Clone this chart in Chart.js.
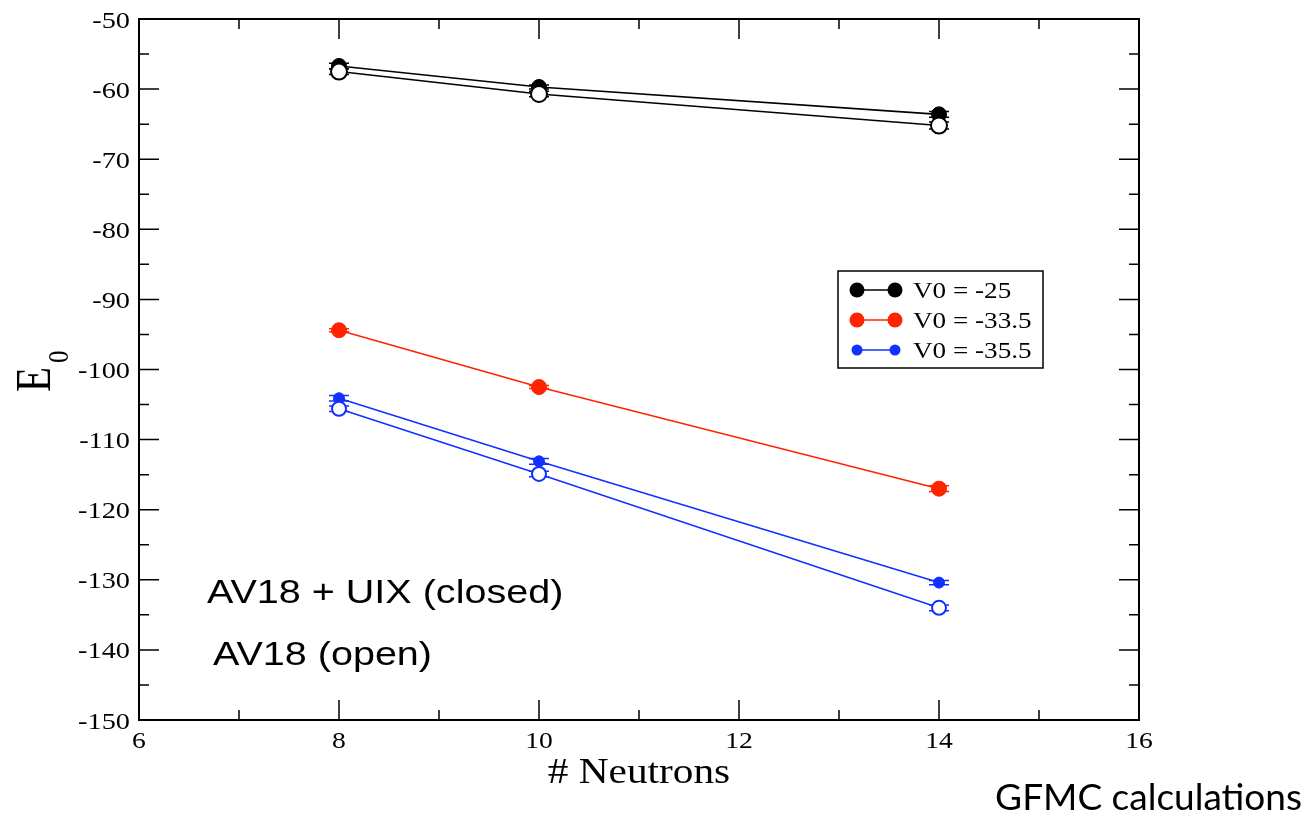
<!DOCTYPE html>
<html>
<head>
<meta charset="utf-8">
<script src="https://cdn.jsdelivr.net/npm/chart.js@4"></script>
<style>
  html, body { margin: 0; padding: 0; background: #fff; }
  #wrap { width: 1309px; height: 819px; position: relative; }
</style>
</head>
<body>
<div id="wrap"><canvas id="gfmcChart"></canvas></div>
<script>
// --- data ---
const neutrons = [8, 10, 14];
const blackClosed = [-56.7, -59.7, -63.6];
const blackOpen   = [-57.5, -60.7, -65.2];
const redClosed   = [-94.4, -102.5, -117.0];
const blueClosed  = [-104.1, -113.1, -130.4];
const blueOpen    = [-105.6, -114.9, -134.0];

const blackClosedErr = [0.4, 0.3, 0.4];
const blackOpenErr   = [0.4, 0.4, 0.5];
const redClosedErr   = [0.2, 0.2, 0.4];
const blueClosedErr  = [0.4, 0.4, 0.3];
const blueOpenErr    = [0.4, 0.4, 0.4];

const legendLabels = ['V0 = -25', 'V0 = -33.5', 'V0 = -35.5'];
const xTicks = [6, 8, 10, 12, 14, 16];
const yTicks = [-150, -140, -130, -120, -110, -100, -90, -80, -70, -60, -50];

const BLACK = '#000000';
const RED = 'rgb(255,36,0)';
const BLUE = 'rgb(18,48,255)';
const serif = '"Liberation Serif", "DejaVu Serif", serif';
const sans = '"Liberation Sans", Arial, sans-serif';
const STRETCH = 1.18; // the original text is a bit wider than it is tall

function pts(ys) {
  return neutrons.map((x, i) => ({ x: x, y: ys[i] }));
}

function series(ys, err, color, open, radius, order) {
  return {
    data: pts(ys),
    err: err,
    borderColor: color,
    borderWidth: 1.6,
    showLine: true,
    tension: 0,
    pointRadius: radius,
    pointHoverRadius: radius,
    pointBackgroundColor: open ? '#ffffff' : color,
    pointBorderColor: color,
    pointBorderWidth: open ? 2 : 1,
    order: order
  };
}

function wideText(ctx, text, x, y, align, sx) {
  ctx.save();
  ctx.translate(x, y);
  ctx.scale(sx || STRETCH, 1);
  ctx.textAlign = align;
  ctx.fillText(text, 0, 0);
  ctx.restore();
}

// frame, inward ticks, tick labels, error bars, legend and texts
const decorations = {
  id: 'decorations',
  beforeDatasetsDraw(chart) {
    const ctx = chart.ctx;
    const xs = chart.scales.x, ys = chart.scales.y;
    ctx.save();
    chart.data.datasets.forEach(ds => {
      ctx.strokeStyle = ds.borderColor;
      ctx.lineWidth = 1.5;
      ds.data.forEach((p, i) => {
        const px = xs.getPixelForValue(p.x);
        const top = ys.getPixelForValue(p.y + ds.err[i]);
        const bot = ys.getPixelForValue(p.y - ds.err[i]);
        ctx.beginPath();
        ctx.moveTo(px, top); ctx.lineTo(px, bot);
        ctx.moveTo(px - 10, top); ctx.lineTo(px + 10, top);
        ctx.moveTo(px - 10, bot); ctx.lineTo(px + 10, bot);
        ctx.stroke();
      });
    });
    ctx.restore();
  },
  afterDraw(chart) {
    const ctx = chart.ctx;
    const a = chart.chartArea;
    const xs = chart.scales.x, ys = chart.scales.y;
    ctx.save();
    ctx.strokeStyle = '#000';
    ctx.fillStyle = '#000';
    ctx.lineWidth = 2;
    ctx.strokeRect(a.left, a.top, a.right - a.left, a.bottom - a.top);

    ctx.lineWidth = 1.5;
    ctx.beginPath();
    for (let v = 6; v <= 16; v += 1) {
      const px = xs.getPixelForValue(v);
      const len = v % 2 === 0 ? 20 : 10;
      ctx.moveTo(px, a.bottom); ctx.lineTo(px, a.bottom - len);
      ctx.moveTo(px, a.top); ctx.lineTo(px, a.top + len);
    }
    for (let v = -150; v <= -50; v += 5) {
      const py = ys.getPixelForValue(v);
      const len = v % 10 === 0 ? 20 : 10;
      ctx.moveTo(a.left, py); ctx.lineTo(a.left + len, py);
      ctx.moveTo(a.right, py); ctx.lineTo(a.right - len, py);
    }
    ctx.stroke();

    // tick labels, placed with the scales
    ctx.textBaseline = 'alphabetic';
    ctx.font = '23px ' + serif;
    xs.ticks.forEach(t => {
      wideText(ctx, String(t.value), xs.getPixelForValue(t.value), a.bottom + 28, 'center', 1.2);
    });
    ctx.font = '24px ' + serif;
    ys.ticks.forEach(t => {
      wideText(ctx, String(t.value), a.left - 9, ys.getPixelForValue(t.value) + 8.5, 'right');
    });

    // legend
    const lx = 838, ly = 271, lw = 205, lh = 97;
    ctx.lineWidth = 1.5;
    ctx.strokeRect(lx, ly, lw, lh);
    const legendStyle = [
      { c: BLACK, r: 7.5 },
      { c: RED, r: 7.5 },
      { c: BLUE, r: 5.5 }
    ];
    ctx.font = '23px ' + serif;
    legendLabels.forEach((t, i) => {
      const y = ly + 19 + i * 30;
      const s = legendStyle[i];
      ctx.strokeStyle = s.c;
      ctx.fillStyle = s.c;
      ctx.lineWidth = 1.5;
      ctx.beginPath();
      ctx.moveTo(857, y); ctx.lineTo(895, y);
      ctx.stroke();
      [857, 895].forEach(cx => {
        ctx.beginPath();
        ctx.arc(cx, y, s.r, 0, Math.PI * 2);
        ctx.fill();
      });
      ctx.fillStyle = '#000';
      wideText(ctx, t, 913, y + 8, 'left');
    });

    // axis titles
    ctx.fillStyle = '#000';
    ctx.font = '35px ' + serif;
    wideText(ctx, '# Neutrons', (a.left + a.right) / 2, 783, 'center');

    ctx.save();
    ctx.translate(50, 392);
    ctx.rotate(-Math.PI / 2);
    ctx.scale(1, 1.22);
    ctx.textAlign = 'left';
    ctx.font = '41px ' + serif;
    ctx.fillText('E', 0, 0);
    ctx.font = '25px ' + serif;
    ctx.fillText('0', 29, 15);
    ctx.restore();

    // annotations
    ctx.font = '33.5px ' + sans;
    wideText(ctx, 'AV18 + UIX (closed)', 207, 603, 'left');
    wideText(ctx, 'AV18 (open)', 213, 665, 'left');
    ctx.font = '37px Lato, "Open Sans", sans-serif';
    ctx.textAlign = 'right';
    ctx.fillText('GFMC calculations', 1302, 810);
    ctx.restore();
  }
};

new Chart(document.getElementById('gfmcChart'), {
  type: 'scatter',
  data: {
    datasets: [
      series(blackClosed, blackClosedErr, BLACK, false, 7.5, 1),
      series(blackOpen, blackOpenErr, BLACK, true, 8, 0),
      series(redClosed, redClosedErr, RED, false, 7.5, 1),
      series(blueClosed, blueClosedErr, BLUE, false, 5.5, 1),
      series(blueOpen, blueOpenErr, BLUE, true, 7, 0)
    ]
  },
  options: {
    responsive: true,
    maintainAspectRatio: false,
    animation: false,
    layout: { padding: { top: 19, right: 170, left: 0, bottom: 0 } },
    plugins: {
      legend: { display: false },
      tooltip: { enabled: false }
    },
    scales: {
      x: {
        type: 'linear',
        min: 6,
        max: 16,
        afterBuildTicks: s => { s.ticks = xTicks.map(v => ({ value: v })); },
        afterFit: s => { s.height = 99; },
        grid: { display: false, drawTicks: false },
        border: { display: false },
        ticks: { display: false }
      },
      y: {
        type: 'linear',
        min: -150,
        max: -50,
        afterBuildTicks: s => { s.ticks = yTicks.map(v => ({ value: v })); },
        afterFit: s => { s.width = 139; },
        grid: { display: false, drawTicks: false },
        border: { display: false },
        ticks: { display: false }
      }
    }
  },
  plugins: [decorations]
});
</script>
</body>
</html>
